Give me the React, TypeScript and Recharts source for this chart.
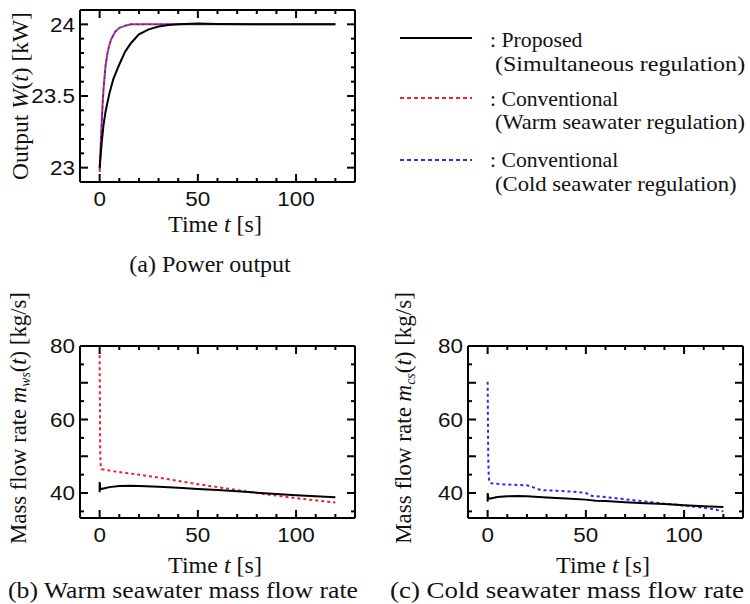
import React, { useLayoutEffect, useRef } from "react"
import { Line, LineChart, XAxis, YAxis } from "recharts"

// (a) power output W(t) [kW]
const powerTimeProposed = [0, 1, 2, 3, 5, 7, 10, 13, 16, 20, 25, 30, 35, 40, 50, 60, 80, 100, 120]
const powerProposed = [23.0, 23.17, 23.3, 23.39, 23.52, 23.62, 23.72, 23.81, 23.87, 23.93, 23.965, 23.985, 23.995, 24.0, 24.005, 24.003, 24.0, 24.0, 24.0]
const powerTimeConv = [0, 0.5, 1, 1.5, 2, 3, 4, 5, 6, 8, 10, 13, 16, 20, 30, 40, 60, 80, 100, 120]
const powerWarmConv = [22.97, 23.15, 23.3, 23.44, 23.55, 23.71, 23.8, 23.86, 23.9, 23.95, 23.975, 23.99, 24.0, 24.0, 24.0, 24.0, 24.0, 24.0, 24.0, 24.0]
const powerColdConv = [22.97, 23.15, 23.3, 23.44, 23.55, 23.71, 23.8, 23.86, 23.9, 23.95, 23.975, 23.99, 24.0, 24.0, 24.0, 24.0, 24.0, 24.0, 24.0, 24.0]

// (b) warm seawater mass flow rate [kg/s]
const warmTimeProposed = [0, 0, 0.4, 2, 5, 10, 15, 20, 30, 40, 50, 60, 70, 80, 90, 100, 110, 120]
const warmProposed = [40.2, 43.0, 41.0, 41.2, 41.6, 41.9, 42.0, 41.9, 41.7, 41.4, 41.1, 40.8, 40.5, 40.1, 39.7, 39.4, 39.1, 38.85]
const warmTimeConv = [0, 0.15, 0.3, 0.6, 1, 5, 10, 20, 30, 40, 50, 60, 70, 80, 90, 100, 110, 120]
const warmConv = [77.5, 62, 50, 47.2, 46.5, 46.1, 45.7, 45.0, 44.2, 43.3, 42.4, 41.6, 40.8, 40.0, 39.3, 38.6, 38.0, 37.4]

// (c) cold seawater mass flow rate [kg/s]
const coldTimeProposed = [0, 0, 0.4, 2, 5, 10, 15, 20, 30, 40, 50, 55, 60, 70, 80, 90, 100, 110, 120]
const coldProposed = [37.6, 40.0, 38.4, 38.6, 38.9, 39.1, 39.2, 39.1, 38.8, 38.5, 38.2, 37.9, 37.8, 37.5, 37.2, 37.0, 36.7, 36.4, 36.2]
const coldTimeConv = [0, 0.1, 0.2, 0.3, 0.5, 0.8, 1.2, 5, 10, 20, 24, 27, 35, 45, 50, 53, 60, 70, 80, 90, 100, 110, 115, 120]
const coldConv = [70.3, 63, 56, 50, 45.5, 43.2, 42.7, 42.5, 42.3, 42.1, 41.4, 40.8, 40.6, 40.3, 40.0, 39.2, 38.9, 38.3, 37.7, 37.1, 36.6, 36.0, 35.6, 35.0]

// axis ticks
const timeTicks = [0, 10, 20, 30, 40, 50, 60, 70, 80, 90, 100, 110, 120]
const timeLabels = [0, 50, 100]
const powerTicks = [23, 23.1, 23.2, 23.3, 23.4, 23.5, 23.6, 23.7, 23.8, 23.9, 24]
const powerLabels = [23, 23.5, 24]
const powerMajor = [23, 23.5, 24]
const flowTicks = [35, 40, 45, 50, 55, 60, 65, 70, 75, 80]
const flowLabels = [40, 60, 80]
const flowMajor = [40, 50, 60, 70, 80]

const rows = (ts: number[], vs: number[]) => ts.map((t, i) => ({ t, v: vs[i] }))

const SANS = "'Liberation Sans', Arial, sans-serif"
const SERIF = "'Liberation Serif', 'Times New Roman', serif"
const TICK_FONT = 21
const STRETCH = 1.07

const has = (arr: number[], v: number) => arr.some((a) => Math.abs(a - v) < 1e-6)

function TickText(props: { x: number; y: number; anchor: string; children: React.ReactNode }) {
  const { x, y, anchor } = props
  return (
    <text
      x={0}
      y={0}
      transform={`translate(${x},${y}) scale(${STRETCH},1)`}
      textAnchor={anchor}
      dominantBaseline="central"
      fontFamily={SANS}
      fontSize={TICK_FONT}
      fill="#111"
    >
      {props.children}
    </text>
  )
}

function makeTick(side: string, major: number[], labels: number[]) {
  return (props: any) => {
    const { x, y, payload } = props
    const v = payload.value
    const len = has(major, v) ? 8 : 4
    const lbl = has(labels, v) ? String(v) : null
    if (side === "bottom") {
      return (
        <g>
          <line x1={x} y1={y} x2={x} y2={y - len} stroke="#000" strokeWidth={2} />
          {lbl && (
            <TickText x={x} y={y + 17} anchor="middle">
              {lbl}
            </TickText>
          )}
        </g>
      )
    }
    if (side === "top") {
      return <line x1={x} y1={y} x2={x} y2={y + len} stroke="#000" strokeWidth={2} />
    }
    if (side === "left") {
      return (
        <g>
          <line x1={x} y1={y} x2={x + len} y2={y} stroke="#000" strokeWidth={2} />
          {lbl && (
            <TickText x={x - 5} y={y} anchor="end">
              {lbl}
            </TickText>
          )}
        </g>
      )
    }
    return <line x1={x} y1={y} x2={x - len} y2={y} stroke="#000" strokeWidth={2} />
  }
}

const axisLine = { stroke: "#000", strokeWidth: 2 }

interface Series {
  data: { t: number; v: number }[]
  color: string
  dash?: string
  offset?: number
}

function Panel(props: {
  left: number
  top: number
  marginTop: number
  yDomain: [number, number]
  yTicks: number[]
  yLabels: number[]
  yMajor: number[]
  series: Series[]
}) {
  const { left, top, marginTop, yDomain, yTicks, yLabels, yMajor, series } = props
  const common = { tickLine: false, tickSize: 0, tickMargin: 0, interval: 0 as const, axisLine }
  return (
    <div style={{ position: "absolute", left, top }}>
      <LineChart width={360} height={marginTop + 1 + 172 + 33} margin={{ top: marginTop, right: 4, bottom: 0, left: 0 }}>
        <XAxis xAxisId="b" type="number" dataKey="t" domain={[-10, 130]} ticks={timeTicks} orientation="bottom" height={33} tick={makeTick("bottom", timeLabels, timeLabels)} allowDataOverflow {...common} />
        <XAxis xAxisId="t" type="number" dataKey="t" domain={[-10, 130]} ticks={timeTicks} orientation="top" height={1} tick={makeTick("top", timeLabels, [])} allowDataOverflow {...common} />
        <YAxis yAxisId="l" type="number" domain={yDomain} ticks={yTicks} orientation="left" width={80} tick={makeTick("left", yMajor, yLabels)} allowDataOverflow {...common} />
        <YAxis yAxisId="r" type="number" domain={yDomain} ticks={yTicks} orientation="right" width={1} tick={makeTick("right", yMajor, [])} allowDataOverflow {...common} />
        {series.map((s, i) => (
          <Line
            key={i}
            xAxisId="b"
            yAxisId="l"
            data={s.data}
            dataKey="v"
            type="linear"
            stroke={s.color}
            strokeWidth={2}
            strokeDasharray={s.dash}
            strokeDashoffset={s.offset}
            dot={false}
            isAnimationActive={false}
          />
        ))}
      </LineChart>
    </div>
  )
}

// serif label; when `width` is given the text is stretched along its run to that length
function Text(props: { x: number; y: number; children: React.ReactNode; rotate?: boolean; align?: string; size?: number; width?: number }) {
  const { x, y, rotate, align, size = 23, width } = props
  const ref = useRef<HTMLDivElement>(null)
  const tx = align === "left" ? "0" : "-50%"
  const build = (s: number) => `translate(${tx}, -50%)${rotate ? " rotate(-90deg)" : ""} scaleX(${s})`
  useLayoutEffect(() => {
    const el = ref.current
    if (!el || !width) return
    el.style.transform = build(width / el.offsetWidth)
  })
  return (
    <div
      ref={ref}
      style={{
        position: "absolute",
        left: x,
        top: y,
        transform: build(rotate ? 1 : STRETCH),
        transformOrigin: align === "left" ? "left center" : "center center",
        whiteSpace: "nowrap",
        fontFamily: SERIF,
        fontSize: size,
        lineHeight: 1,
        color: "#111",
      }}
    >
      {props.children}
    </div>
  )
}

const it = { fontStyle: "italic" as const }
const sub = { fontStyle: "italic" as const, fontSize: "0.6em", verticalAlign: "-0.25em" }

function LegendSample(props: { y: number; color: string; dash?: string }) {
  return (
    <svg style={{ position: "absolute", left: 400, top: props.y - 3 }} width={74} height={6}>
      <line x1={0} y1={3} x2={72} y2={3} stroke={props.color} strokeWidth={2} strokeDasharray={props.dash} />
    </svg>
  )
}

export default function App() {
  const black = "#000"
  const red = "#f0202a"
  const blue = "#2a2aee"
  return (
    <div style={{ position: "absolute", left: 0, top: 0, width: 750, height: 604, background: "#fff", overflow: "hidden" }}>
      <Panel
        left={0}
        top={0}
        marginTop={9}
        yDomain={[22.9, 24.1]}
        yTicks={powerTicks}
        yLabels={powerLabels}
        yMajor={powerMajor}
        series={[
          { data: rows(powerTimeConv, powerWarmConv), color: red, dash: "3 3" },
          { data: rows(powerTimeConv, powerColdConv), color: blue, dash: "3 3", offset: 3 },
          { data: rows(powerTimeProposed, powerProposed), color: black },
        ]}
      />
      <Panel
        left={0}
        top={330}
        marginTop={15}
        yDomain={[33.2, 80]}
        yTicks={flowTicks}
        yLabels={flowLabels}
        yMajor={flowMajor}
        series={[
          { data: rows(warmTimeConv, warmConv), color: red, dash: "3 3" },
          { data: rows(warmTimeProposed, warmProposed), color: black },
        ]}
      />
      <Panel
        left={388}
        top={330}
        marginTop={15}
        yDomain={[33.2, 80]}
        yTicks={flowTicks}
        yLabels={flowLabels}
        yMajor={flowMajor}
        series={[
          { data: rows(coldTimeConv, coldConv), color: blue, dash: "3 3" },
          { data: rows(coldTimeProposed, coldProposed), color: black },
        ]}
      />

      <Text x={20} y={96} rotate width={168}>
        Output <span style={it}>W</span>(<span style={it}>t</span>) [kW]
      </Text>
      <Text x={215} y={224} width={94}>
        Time <span style={it}>t</span> [s]
      </Text>
      <Text x={210} y={264} width={162}>(a) Power output</Text>

      <Text x={20} y={418} rotate width={252}>
        Mass flow rate <span style={it}>m</span>
        <span style={sub}>ws</span>(<span style={it}>t</span>) [kg/s]
      </Text>
      <Text x={215} y={565} width={94}>
        Time <span style={it}>t</span> [s]
      </Text>
      <Text x={183} y={590} size={23} width={350}>(b) Warm seawater mass flow rate</Text>

      <Text x={405} y={418} rotate width={252}>
        Mass flow rate <span style={it}>m</span>
        <span style={sub}>cs</span>(<span style={it}>t</span>) [kg/s]
      </Text>
      <Text x={603} y={565} width={94}>
        Time <span style={it}>t</span> [s]
      </Text>
      <Text x={567} y={590} size={23} width={354}>(c) Cold seawater mass flow rate</Text>

      <LegendSample y={38} color={black} />
      <LegendSample y={98} color={red} dash="4 3" />
      <LegendSample y={160} color={blue} dash="4 3" />
      <Text x={490} y={40} align="left" size={22} width={93}>: Proposed</Text>
      <Text x={495} y={64} align="left" size={22} width={250}>(Simultaneous regulation)</Text>
      <Text x={490} y={99} align="left" size={22} width={128}>: Conventional</Text>
      <Text x={495} y={122} align="left" size={22} width={250}>(Warm seawater regulation)</Text>
      <Text x={490} y={160} align="left" size={22} width={128}>: Conventional</Text>
      <Text x={495} y={184} align="left" size={22} width={242}>(Cold seawater regulation)</Text>
    </div>
  )
}
